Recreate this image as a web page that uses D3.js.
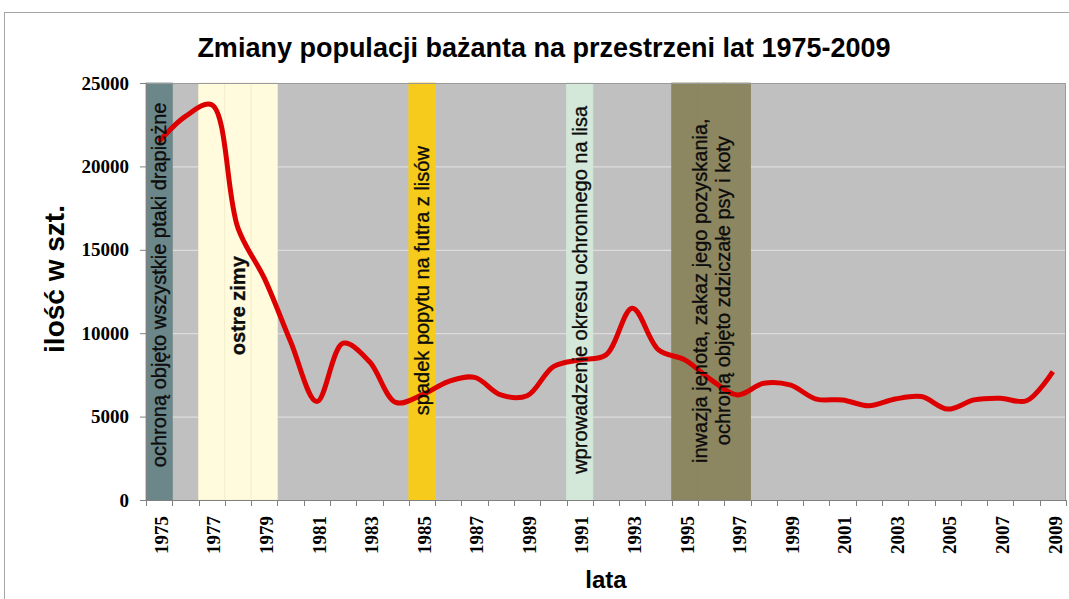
<!DOCTYPE html>
<html>
<head>
<meta charset="utf-8">
<script src="https://cdn.jsdelivr.net/npm/d3@7"></script>
<style>
  body { margin: 0; background: #fff; }
  svg { display: block; }
  .title { font-family: "Liberation Sans", Arial, sans-serif; font-weight: bold; font-size: 27px; }
  .axis-label { font-family: "Liberation Sans", Arial, sans-serif; font-weight: bold; }
  .tick text { font-family: "Liberation Serif", "Times New Roman", serif; font-weight: bold; font-size: 19px; fill: #000; }
  .event { font-family: "Liberation Sans", Arial, sans-serif; font-size: 20px; fill: #0c0c0c; stroke: #0c0c0c; stroke-width: 0.35px; }
</style>
</head>
<body>
<svg></svg>
<script>
const years = d3.range(1975, 2010);
const population = [
  21500, 23000, 23700, 16300, 13300, 9500, 5900, 9400, 8300, 5850,
  6300, 7100, 7350, 6300, 6250, 8000, 8400, 8700, 11500, 9000,
  8400, 7200, 6300, 7000, 6900, 6050, 6000, 5650, 6050, 6200,
  5450, 6000, 6100, 5950, 7700
];
const yTicks = [0, 5000, 10000, 15000, 20000, 25000];
const xLabelYears = years.filter((d) => (d - 1975) % 2 === 0);

// shaded periods (first year, last year) and their notes
const eventFrom = [1975, 1977, 1985, 1991, 1995];
const eventTo = [1975, 1979, 1985, 1991, 1997];
const eventText = [
  ["ochroną objęto wszystkie ptaki drapieżne"],
  ["ostre zimy"],
  ["spadek popytu na futra z lisów"],
  ["wprowadzenie okresu ochronnego na lisa"],
  ["inwazja jenota, zakaz jego pozyskania,", "ochroną objęto zdziczałe psy i koty"]
];
const eventColor = ["#6c878a", "#fffbdc", "#f7cb1b", "#d3e8d8", "#8c8761"];
const eventStroke = ["#6c878a", "#f3eecd", "#f7cb1b", "#d3e8d8", "#8a8660"];
const eventLabelAt = [12900, 11650, 13150, 12600, 12550];
const eventBold = [false, true, false, false, false];

const svg = d3.select("svg");
svg.attr("width", 1069);
svg.attr("height", 599);

const width = parseInt(svg.attr("width"));
const height = parseInt(svg.attr("height"));

const margin = { left: 146, right: 3, top: 83, bottom: 99 };
const graphWidth = width - margin.left - margin.right;
const graphHeight = height - margin.top - margin.bottom;

// chart area border
svg.append("rect")
  .attr("x", 4.5).attr("y", 12.5)
  .attr("width", 1100).attr("height", 700)
  .attr("fill", "#fff").attr("stroke", "#a6a6a6");

svg.append("text")
  .attr("class", "title")
  .attr("x", 544)
  .attr("y", 57)
  .attr("text-anchor", "middle")
  .text("Zmiany populacji bażanta na przestrzeni lat 1975-2009");

const xScale = d3.scaleBand().domain(years).range([0, graphWidth]).padding(0);
const yScale = d3.scaleLinear().domain([0, 25000]).range([graphHeight, 0]);

const g = svg.append("g")
  .attr("transform", `translate(${margin.left}, ${margin.top})`);

g.append("rect")
  .attr("width", graphWidth).attr("height", graphHeight)
  .attr("fill", "#c0c0c0");

// gridlines
g.append("g")
  .selectAll("line")
  .data(yTicks.slice(1, -1))
  .enter()
  .append("line")
  .attr("x1", 0).attr("x2", graphWidth)
  .attr("y1", (d) => yScale(d) + 0.5).attr("y2", (d) => yScale(d) + 0.5)
  .attr("stroke", "#e4e4e4");

// period columns
eventFrom.forEach((from, i) => {
  const span = years.filter((y) => y >= from && y <= eventTo[i]);
  g.append("g")
    .selectAll("rect")
    .data(span)
    .enter()
    .append("rect")
    .attr("x", (d) => xScale(d))
    .attr("y", 0)
    .attr("width", xScale.bandwidth())
    .attr("height", graphHeight)
    .attr("fill", eventColor[i])
    .attr("stroke", eventStroke[i])
    .attr("stroke-width", 0.8);
});

// plot frame
g.append("path")
  .attr("d", `M0,0.5H${graphWidth - 0.5}V${graphHeight}`)
  .attr("fill", "none").attr("stroke", "#9a9a9a");

// the series
const line = d3.line()
  .x((d, i) => xScale(years[i]) + xScale.bandwidth() / 2)
  .y((d) => yScale(d))
  .curve(d3.curveCatmullRom.alpha(0.5));

g.append("path")
  .datum(population)
  .attr("d", line)
  .attr("fill", "none")
  .attr("stroke", "#dd0000")
  .attr("stroke-width", 5)
  .attr("stroke-linejoin", "round");

// notes on the periods (drawn above the line)
eventText.forEach((lines, i) => {
  const cx = (xScale(eventFrom[i]) + xScale(eventTo[i]) + xScale.bandwidth()) / 2;
  const cy = yScale(eventLabelAt[i]);
  const t = g.append("text")
    .attr("class", "event")
    .attr("transform", `translate(${cx}, ${cy}) rotate(-90)`)
    .attr("text-anchor", "middle")
    .attr("font-weight", eventBold[i] ? "bold" : "normal");
  lines.forEach((s, k) => {
    t.append("tspan")
      .attr("x", 0)
      .attr("dy", k === 0 ? `${0.35 - (lines.length - 1) * 0.575}em` : "1.15em")
      .text(s);
  });
});

// y axis
const yAxisG = g.append("g")
  .call(d3.axisLeft(yScale).tickValues(yTicks).tickSize(6).tickPadding(11).tickFormat(d3.format("d")));
yAxisG.selectAll("line").attr("stroke", "#808080");
yAxisG.select(".domain").attr("stroke", "#808080");

// x axis: labels every other year, ticks on category edges
const xAxisG = g.append("g")
  .attr("transform", `translate(0, ${graphHeight})`)
  .call(d3.axisBottom(xScale).tickValues(xLabelYears).tickSize(0));
xAxisG.select(".domain").attr("stroke", "#808080");
xAxisG.selectAll(".tick text")
  .attr("text-anchor", "end")
  .attr("transform", "translate(2, 16) rotate(-90)")
  .attr("x", 0).attr("y", 0).attr("dy", "0.35em");

xAxisG.append("g")
  .selectAll("line")
  .data(years.map((d) => xScale(d)).concat([graphWidth]))
  .enter()
  .append("line")
  .attr("x1", (d) => Math.round(d) + 0.5).attr("x2", (d) => Math.round(d) + 0.5)
  .attr("y1", 0).attr("y2", 6)
  .attr("stroke", "#808080");

xAxisG.append("text")
  .attr("class", "axis-label")
  .attr("fill", "black")
  .attr("font-size", "24px")
  .attr("text-anchor", "middle")
  .attr("x", 606 - margin.left)
  .attr("y", 88)
  .text("lata");

g.append("text")
  .attr("class", "axis-label")
  .attr("fill", "black")
  .attr("font-size", "28px")
  .attr("text-anchor", "middle")
  .attr("transform", `translate(${64 - margin.left}, ${279 - margin.top}) rotate(-90)`)
  .text("ilość w szt.");
</script>
</body>
</html>
